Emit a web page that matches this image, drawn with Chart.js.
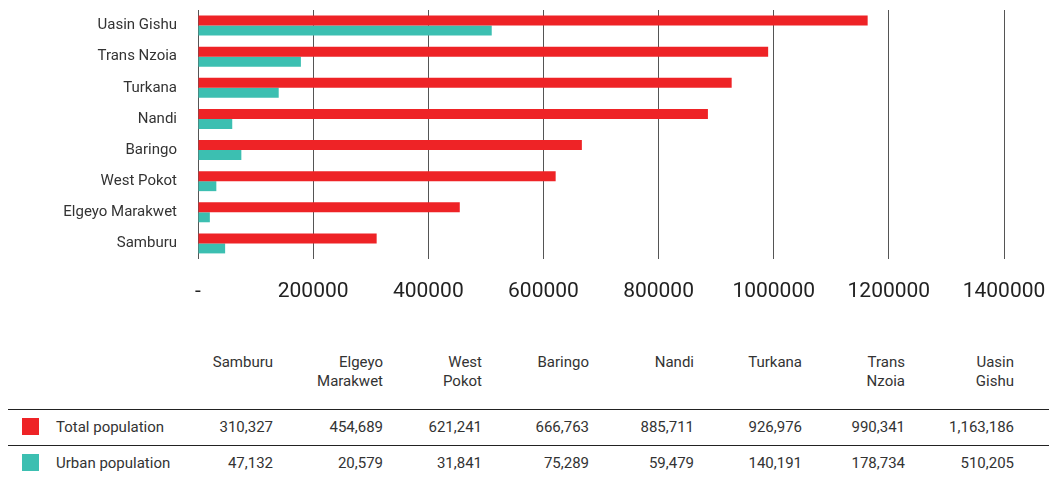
<!DOCTYPE html>
<html>
<head>
<meta charset="utf-8">
<script src="https://cdn.jsdelivr.net/npm/chart.js@4/dist/chart.umd.min.js"></script>
<style>
  body { margin: 0; width: 1049px; height: 477px; overflow: hidden; background: #fff; font-family: Roboto, sans-serif; color: #333; }
  #chartBox { position: absolute; left: 0; top: 0; width: 1049px; height: 310px; }
  #dataTable { position: absolute; left: 8px; top: 346px; width: 1041px; border-collapse: collapse; table-layout: fixed; font-size: 15px; }
  #dataTable th { font-weight: normal; text-align: right; vertical-align: top; line-height: 19px; padding: 7px 0 0 0; height: 56px; }
  #dataTable td { text-align: right; padding: 0; height: 35px; line-height: 35px; }
  #dataTable tr.head th, #dataTable tr.first td { border-bottom: 1.5px solid #222; }
  #dataTable td.series { text-align: left; padding-left: 14px; }
  .swatch { display: inline-block; width: 17px; height: 17px; vertical-align: -3px; margin-right: 17px; }
</style>
</head>
<body>
<div id="chartBox"><canvas id="popChart" width="1049" height="310"></canvas></div>
<table id="dataTable">
  <colgroup>
    <col style="width:185px"><col style="width:80px"><col style="width:110px"><col style="width:99px">
    <col style="width:107px"><col style="width:105px"><col style="width:108px"><col style="width:103px">
    <col style="width:109px"><col style="width:35px">
  </colgroup>
  <tbody id="tableBody"></tbody>
</table>
<script>
// County data (Samburu first, as in the table)
const counties = ['Samburu', 'Elgeyo Marakwet', 'West Pokot', 'Baringo', 'Nandi', 'Turkana', 'Trans Nzoia', 'Uasin Gishu'];
const totalPop = [310327, 454689, 621241, 666763, 885711, 926976, 990341, 1163186];
const urbanPop = [47132, 20579, 31841, 75289, 59479, 140191, 178734, 510205];
const seriesNames = ['Total population', 'Urban population'];
const seriesColors = ['#ee2326', '#3cbfb1'];

// Bar chart
const ctx = document.getElementById('popChart');
new Chart(ctx, {
    type: 'bar',
    data: {
        labels: counties,
        datasets: [{
            label: seriesNames[0],
            data: totalPop,
            backgroundColor: seriesColors[0],
            categoryPercentage: 0.64,
            barPercentage: 1
        }, {
            label: seriesNames[1],
            data: urbanPop,
            backgroundColor: seriesColors[1],
            categoryPercentage: 0.64,
            barPercentage: 1
        }]
    },
    options: {
        indexAxis: 'y',
        responsive: false,
        animation: false,
        layout: { padding: { left: 8, top: 10, right: 45, bottom: 0 } },
        plugins: { legend: { display: false }, tooltip: { enabled: false } },
        scales: {
            x: {
                min: 0,
                max: 1400000,
                ticks: {
                    stepSize: 200000,
                    padding: 20,
                    color: '#222',
                    font: { family: 'Roboto', size: 21 },
                    callback: v => v === 0 ? '-' : String(v)
                },
                grid: { color: '#555', lineWidth: 1, drawTicks: false },
                border: { display: false },
                afterFit: scale => {
                    scale.height = 51;
                    scale.paddingLeft = 0;
                    scale.paddingRight = 0;
                }
            },
            y: {
                reverse: true,
                ticks: { padding: 21, color: '#333', font: { family: 'Roboto', size: 15 } },
                grid: { display: false, drawTicks: false },
                border: { display: false },
                afterFit: scale => {
                    scale.width = 190;
                    scale.paddingTop = 0;
                    scale.paddingBottom = 0;
                }
            }
        }
    }
});

// Data table
const body = document.getElementById('tableBody');
let head = '<tr class="head"><th></th>';
counties.forEach(c => { head += '<th>' + c.split(' ').join('<br>') + '</th>'; });
head += '<th></th></tr>';
const rows = [totalPop, urbanPop].map((vals, i) => {
    let r = '<tr' + (i === 0 ? ' class="first"' : '') + '><td class="series"><span class="swatch" style="background:' + seriesColors[i] + '"></span>' + seriesNames[i] + '</td>';
    vals.forEach(v => { r += '<td>' + v.toLocaleString('en-US') + '</td>'; });
    return r + '<td></td></tr>';
});
body.innerHTML = head + rows.join('');
</script>
</body>
</html>
